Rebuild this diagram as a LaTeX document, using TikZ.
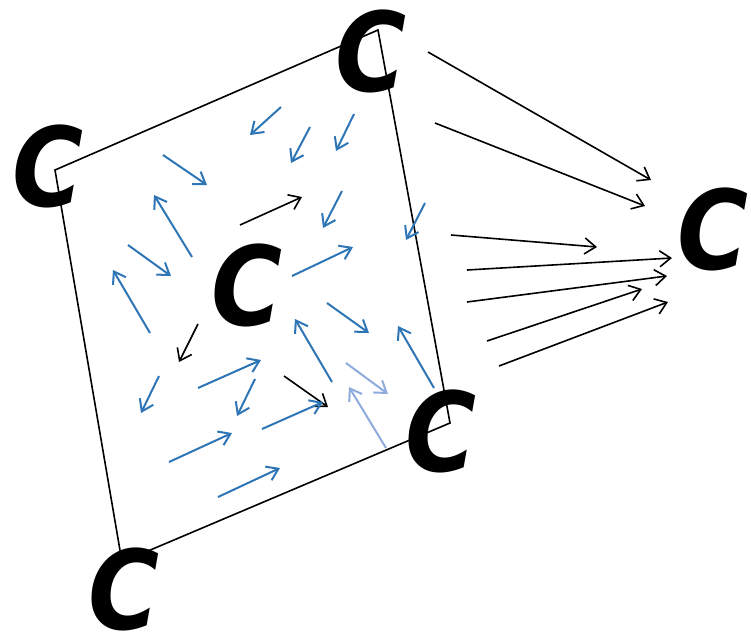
\documentclass[tikz,border=0pt]{standalone}
\usepackage{fontspec}
\newfontfamily\Cfam{DejaVu Sans}
\usetikzlibrary{arrows.meta}
\definecolor{bluec}{HTML}{2E75B6}
\definecolor{lbluec}{HTML}{8FAADC}
\tikzset{
  edge/.style={draw=black, line width=1.6pt},
  blk/.style={draw=black, line width=1.6pt, -{Straight Barb[length=11pt,width=16pt]}},
  blu/.style={draw=bluec, line width=2pt, -{Straight Barb[length=11pt,width=15pt]}},
  lblu/.style={blu, draw=lbluec},
  bigC/.style={inner sep=0pt, font=\Cfam\bfseries\itshape\fontsize{110}{110}\selectfont}
}
\begin{document}
\begin{tikzpicture}[x=1pt,y=-1pt]
\useasboundingbox (0,0) rectangle (751,643);
% square
\coordinate (A) at (55,170);
\coordinate (B) at (378,30);
\coordinate (Cc) at (450,423);
\coordinate (D) at (122,562);
\draw[edge] (A) -- (B) -- (Cc) -- (D) -- cycle;
% interior arrows
\draw[blu] (281,107) -- (250,135);
\draw[blu] (310,127) -- (291,163);
\draw[blu] (354,114) -- (336,151);
\draw[blu] (163,155) -- (207,185);
\draw[blu] (192,257) -- (154,195);
\draw[blk] (240,225) -- (302,197);
\draw[blu] (342,191) -- (323,228);
\draw[blu] (425,203) -- (406,240);
\draw[blu] (128,245) -- (171,276);
\draw[blu] (150,333) -- (113,270);
\draw[blu] (292,276) -- (353,247);
\draw[blu] (327,303) -- (369,333);
\draw[blk] (198,324) -- (179,362);
\draw[blu] (159,376) -- (141,413);
\draw[blu] (198,388) -- (261,360);
\draw[blu] (255,379) -- (237,416);
\draw[blk] (284,376) -- (328,407);
\draw[blu] (262,429) -- (323,402);
\draw[blu] (332,382) -- (295,319);
\draw[lblu] (346,363) -- (388,394);
\draw[lblu] (386,448) -- (349,387);
\draw[blu] (434,388) -- (398,326);
\draw[blu] (169,462) -- (232,433);
\draw[blu] (218,497) -- (280,468);
% right arrows
\draw[blk] (428,52) -- (651,180);
\draw[blk] (435,123) -- (645,206);
\draw[blk] (451,235) -- (597,247);
\draw[blk] (467,270) -- (672,258);
\draw[blk] (467,302) -- (667,276);
\draw[blk] (487,341) -- (642,289);
\draw[blk] (499,366) -- (668,302);
% letters
\node[bigC] (c1) at (371,51) {\scalebox{0.88}[1]{C}};
\node[bigC] (c2) at (48,166) {\scalebox{0.88}[1]{C}};
\node[bigC] (c3) at (247,285) {\scalebox{0.88}[1]{C}};
\node[bigC] (c4) at (441,431) {\scalebox{0.88}[1]{C}};
\node[bigC] (c5) at (124,589) {\scalebox{0.88}[1]{C}};
\node[bigC] (c6) at (713,229) {\scalebox{0.88}[1]{C}};
\end{tikzpicture}
\end{document}
